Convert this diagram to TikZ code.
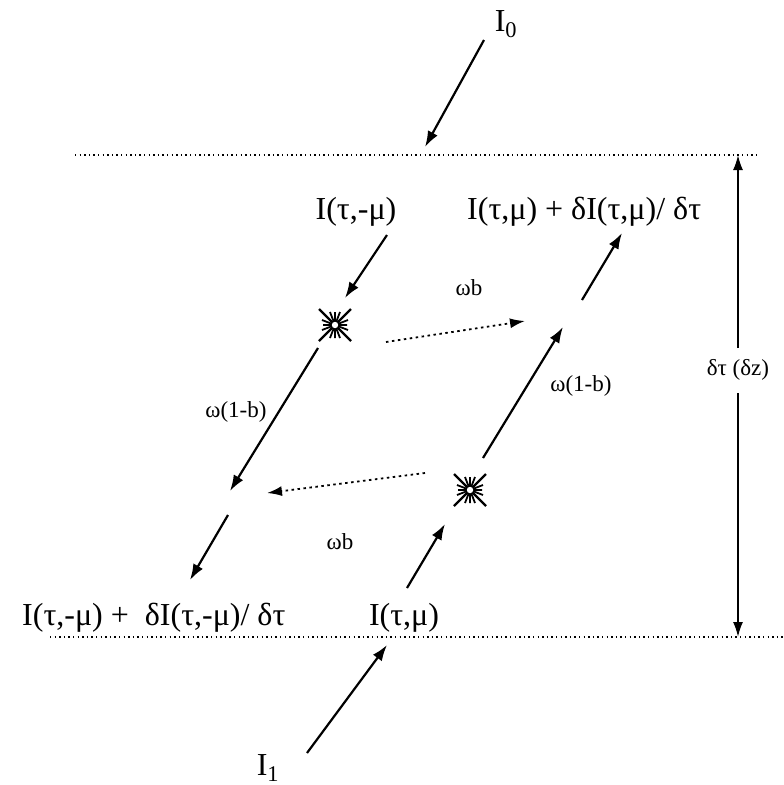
\documentclass[tikz,border=0pt]{standalone}
\usepackage{fontspec}
\setmainfont{Liberation Serif}
\usetikzlibrary{arrows.meta}
\begin{document}
\begin{tikzpicture}[x=1pt,y=-1pt,
  lbl/.style={font=\fontsize{32}{36}\selectfont, inner sep=0pt},
  slbl/.style={font=\fontsize{23}{26}\selectfont, inner sep=0pt},
  arr/.style={line width=2.2pt, -{Latex[length=16pt,width=11pt]}},
  darr/.style={line width=1.8pt, dash pattern=on 2.5pt off 3.5pt, -{Latex[length=15pt,width=10pt]}},
  lvl/.style={line width=1.5pt, dash pattern=on 1.4pt off 3.2pt},
  starburst/.pic={
    \draw[line width=2.4pt] (-16,-16) -- (16,16) (-16,16) -- (16,-16);
    \draw[line width=1.8pt] (-12,0) -- (12,0) (0,-13) -- (0,13)
      (-13,-5) -- (13,5) (-13,5) -- (13,-5) (-5,-13) -- (5,13) (5,-13) -- (-5,13);
    \fill[white] (0,0) circle (3.2);
  }]
\useasboundingbox (0,0) rectangle (784,785);
% levels
\coordinate (tl) at (75,155); \coordinate (tr) at (758,155);
\coordinate (bl) at (50,637); \coordinate (br) at (784,637);
\draw[lvl] (tl) -- (tr);
\draw[lvl] (bl) -- (br);
% depth arrow
\node[slbl] (dz) at (738,370) {δτ (δz)};
\coordinate (dztop) at (738,155); \coordinate (dzbot) at (738,637);
\draw[line width=1.8pt, -{Latex[length=15pt,width=10pt]}] (738,348) -- (dztop);
\draw[line width=1.8pt, -{Latex[length=15pt,width=10pt]}] (738,393) -- (dzbot);
% labels
\node[lbl] (I0) at (506,24) {I\textsubscript{0}};
\node[lbl] (I1) at (268,768) {I\textsubscript{1}};
\node[lbl] (Itm) at (356,212) {I(τ,-μ)};
\node[lbl, anchor=west] (Itp) at (467,212) {I(τ,μ) + δI(τ,μ)/ δτ};
\node[lbl, anchor=west] (Bl) at (22,618) {I(τ,-μ) +\ \ δI(τ,-μ)/ δτ};
\node[lbl] (Br) at (404,618) {I(τ,μ)};
\node[slbl] (wb1) at (469,288) {ωb};
\node[slbl] (wb2) at (340,542) {ωb};
\node[slbl] (w1) at (236,412) {ω(1-b)};
\node[slbl] (w2) at (581,386) {ω(1-b)};
% stars
\coordinate (s1) at (335,325);
\coordinate (s2) at (470,490);
\pic at (s1) {starburst};
\pic at (s2) {starburst};
% incoming arrows
\coordinate (a0s) at (484,40); \coordinate (a0e) at (425,147);
\draw[arr] (a0s) -- (a0e);
\coordinate (a1s) at (307,753); \coordinate (a1e) at (387,645);
\draw[arr] (a1s) -- (a1e);
% downward stream
\coordinate (d1s) at (387,235); \coordinate (d1e) at (345,298);
\draw[arr] (d1s) -- (d1e);
\coordinate (d2s) at (318,348); \coordinate (d2e) at (230,491);
\draw[arr] (d2s) -- (d2e);
\coordinate (d3s) at (228,515); \coordinate (d3e) at (190,580);
\draw[arr] (d3s) -- (d3e);
% upward stream
\coordinate (u1s) at (407,588); \coordinate (u1e) at (445,524);
\draw[arr] (u1s) -- (u1e);
\coordinate (u2s) at (483,458); \coordinate (u2e) at (563,327);
\draw[arr] (u2s) -- (u2e);
\coordinate (u3s) at (582,300); \coordinate (u3e) at (622,233);
\draw[arr] (u3s) -- (u3e);
% scattering
\coordinate (sc1s) at (386,342); \coordinate (sc1e) at (525,321);
\draw[darr] (sc1s) -- (sc1e);
\coordinate (sc2s) at (425,473); \coordinate (sc2e) at (267,493);
\draw[darr] (sc2s) -- (sc2e);
\end{tikzpicture}
\end{document}
